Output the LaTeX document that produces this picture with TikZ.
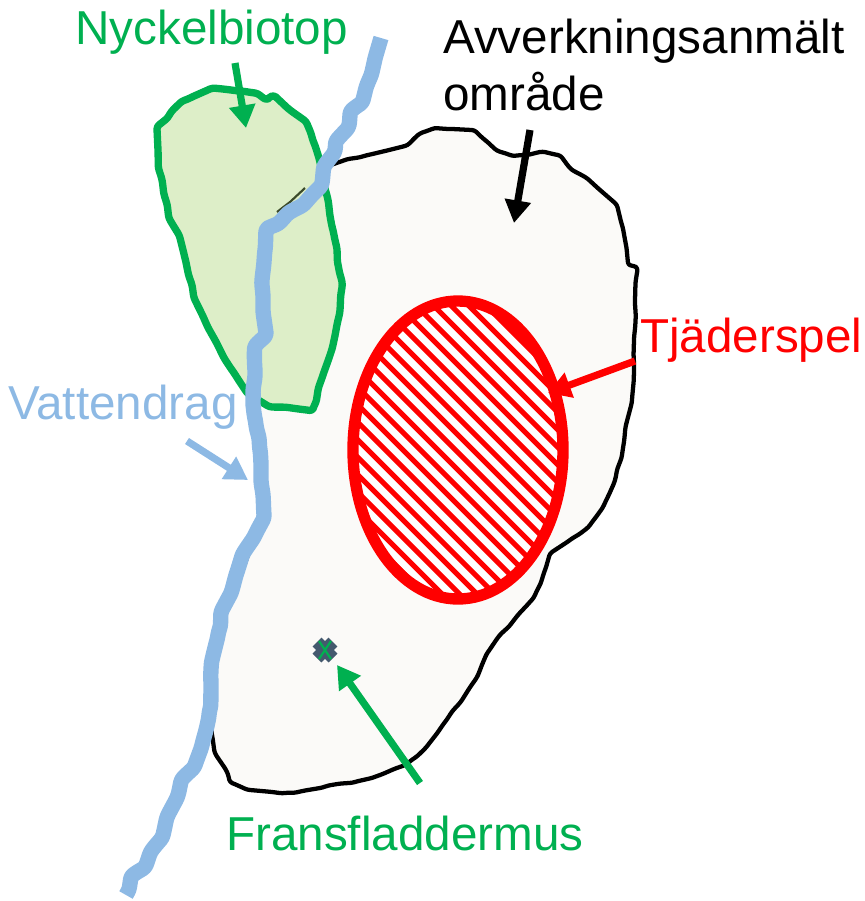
\documentclass[tikz,border=0pt]{standalone}
\usepackage{fontspec}
\setmainfont{Liberation Sans}
\usetikzlibrary{arrows.meta,decorations.pathmorphing}
\definecolor{grn}{HTML}{00B050}
\definecolor{rv}{HTML}{8DB9E4}
\definecolor{lgrn}{HTML}{DDEEC8}
\definecolor{blobf}{HTML}{FBFAF8}
\definecolor{xm}{HTML}{44596E}
\definecolor{dk}{HTML}{3B4A2A}
\tikzset{
  lbl/.style={font=\fontsize{35.7pt}{42pt}\selectfont,inner sep=0pt,align=left},
  arr/.style={line width=5.4pt,-{Triangle[length=17pt,width=19pt]}},
  wob/.style={decorate,decoration={random steps,segment length=9pt,amplitude=0.9pt},rounded corners=2pt},
}
\pgfmathsetseed{7}
\begin{document}
\begin{tikzpicture}[x=0.75pt,y=-0.75pt]
\useasboundingbox (0,0) rectangle (865,901);
% felling area
\draw[fill=blobf,draw=black,line width=3.2pt,line join=round,line cap=round,wob]
 (318,170)--(345,160)--(368,155)--(385,151)--(405,146)--(418,135)--(432,129)--(450,129)--(472,130)--(485,140)--(495,149)--(510,155)--(525,155)--(540,152)--(558,155)--(570,168)--(585,177)--(600,190)--(615,203)--(622,225)--(626,245)--(628,263)--(636,267)--(635,300)--(634,340)--(634,365)--(632,400)--(626,425)--(622,455)--(615,480)--(604,505)--(590,525)--(570,540)--(552,552)--(545,570)--(535,595)--(518,615)--(500,635)--(488,652)--(478,675)--(462,700)--(445,722)--(428,745)--(408,763)--(385,773)--(355,782)--(320,788)--(285,793)--(250,790)--(232,783)--(227,772)--(216,755)--(212,735)--(213,700)--(212,670)--(218,640)--(232,590)--(250,550)--(266,520)--(262,470)--(256,420)--(252,370)--(262,300)--(265,232)--(285,208)--(305,185)--cycle;
% key biotope
\draw[fill=lgrn,draw=grn,line width=5.5pt,line join=round,line cap=round,wob]
 (158,150)--(157,129)--(172,111)--(180,103)--(190,98)--(210,89)--(240,91)--(255,93)--(265,99)--(272,96)--(290,110)--(304,120)--(314,143)--(322,170)--(328,200)--(334,235)--(342,282)--(340,310)--(333,345)--(323,375)--(313,409)--(272,407)--(250,395)--(232,370)--(215,340)--(195,300)--(183,250)--(180,238)--(170,220)--(162,180)--(159,170)--cycle;
\draw[dk,line width=1.6pt] (277,212)--(290,202)--(305,188);
% hatched ellipse
\begin{scope}
 \clip (458,450) ellipse [x radius=105,y radius=149];
 \fill[white] (340,290) rectangle (580,610);
 \foreach \k in {-36,...,36}{
   \draw[red,line width=3.9pt] ({223+\k*17.5},200) -- ({723+\k*17.5},700);
 }
\end{scope}
\draw[red,line width=8.5pt] (458,450) ellipse [x radius=105,y radius=149];
% watercourse
\draw[rv,line width=11.5pt,line join=round,wob]
 (381,38)--(376,55)--(372,72)--(367,85)--(363,100)--(352,110)--(349,125)--(337,140)--(335,150)--(325,165)--(322,183)--(305,203)--(290,212)--(280,222)--(268,228)--(265,250)--(262,280)--(263,310)--(266,333)--(256,345)--(255,375)--(253,400)--(256,425)--(260,450)--(261,480)--(264,515)--(255,535)--(244,552)--(237,572)--(232,590)--(222,610)--(218,635)--(212,660)--(211,690)--(209,715)--(202,745)--(195,765)--(183,778)--(178,795)--(168,815)--(163,835)--(152,850)--(146,865)--(133,875)--(126,895);
% mark
\coordinate (xc) at (325,650);
\draw[xm,line width=9.5pt] (317,642)--(333,658) (333,642)--(317,658);
\draw[grn,line width=1.6pt] (319,641)--(331,659) (331,641)--(319,659);
% labels
\node[lbl,text=grn,anchor=base west] (nb) at (75,44) {Nyckelbiotop};
\node[lbl,text=black,anchor=base west] (av) at (443,53) {Avverkningsanmält};
\node[lbl,text=black,anchor=base west] (om) at (443,110) {område};
\node[lbl,text=red,anchor=base west] (tj) at (640,352) {Tjäderspel};
\node[lbl,text=rv,anchor=base west] (va) at (8,419) {Vattendrag};
\node[lbl,text=grn,anchor=base west] (fr) at (226,850) {Fransfladdermus};
% arrows
\coordinate (a1) at (235,63); \coordinate (b1) at (246,128);
\coordinate (a2) at (530,130); \coordinate (b2) at (514,223);
\coordinate (a3) at (635,361); \coordinate (b3) at (548,393);
\coordinate (a4) at (187,441); \coordinate (b4) at (248,480);
\coordinate (a5) at (420,783); \coordinate (b5) at (337,665);
\draw[arr,grn] (a1)--(b1);
\draw[arr,black] (a2)--(b2);
\draw[arr,red] (a3)--(b3);
\draw[arr,rv] (a4)--(b4);
\draw[arr,grn] (a5)--(b5);
\end{tikzpicture}
\end{document}
